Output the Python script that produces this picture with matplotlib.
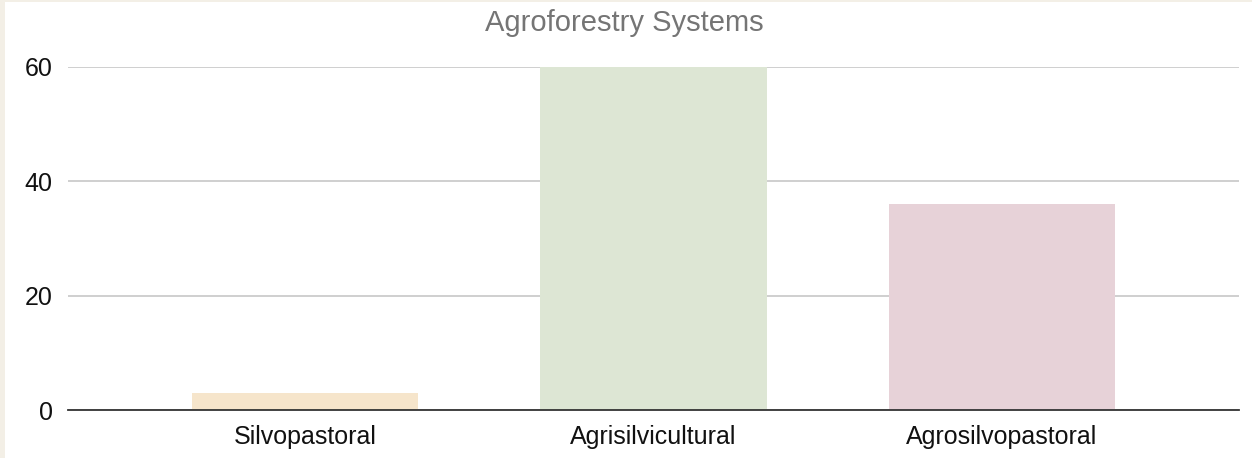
import matplotlib.pyplot as plt
from matplotlib.patches import Rectangle

plt.rcParams['font.family'] = ['Liberation Sans', 'DejaVu Sans']

categories = ["Silvopastoral", "Agrisilvicultural", "Agrosilvopastoral"]
values = [3, 60, 36]
colors = ["#f6e5cb", "#dde6d4", "#e7d2d8"]
y_ticks = [0, 20, 40, 60]

fig = plt.figure(figsize=(12.52, 4.58), dpi=100)
fig.patch.set_facecolor("#f3efe6")
fig.patches.append(Rectangle((5 / 1252, 0), 1, 1 - 2 / 458, transform=fig.transFigure,
                             facecolor="white", edgecolor="none", zorder=-10))

ax = fig.add_axes([68 / 1252, 48 / 458, (1239 - 68) / 1252, (410 - 67) / 458])
ax.set_facecolor("none")

x = range(len(categories))
ax.bar(x, values, width=0.65, color=colors, zorder=2)

ax.set_xlim(-0.68, 2.68)
ax.set_ylim(0, 60)
ax.set_yticks(y_ticks)
ax.set_xticks(list(x))
ax.set_xticklabels(categories)
ax.tick_params(axis="both", length=0, labelsize=18, colors="#111111")
ax.tick_params(axis="x", pad=11)
ax.tick_params(axis="y", pad=11)

ax.grid(axis="y", color="#cccccc", linewidth=1.3, zorder=1)
ax.set_axisbelow(True)
for side in ["top", "right", "left"]:
    ax.spines[side].set_visible(False)
ax.spines["bottom"].set_color("#333333")
ax.spines["bottom"].set_linewidth(1.3)
ax.spines["bottom"].set_zorder(3)

fig.text(624 / 1252, 1 - 23 / 458, "Agroforestry Systems", ha="center", va="center",
         fontsize=21, color="#757575")

fig.savefig("out.png", dpi=100, facecolor=fig.get_facecolor())
